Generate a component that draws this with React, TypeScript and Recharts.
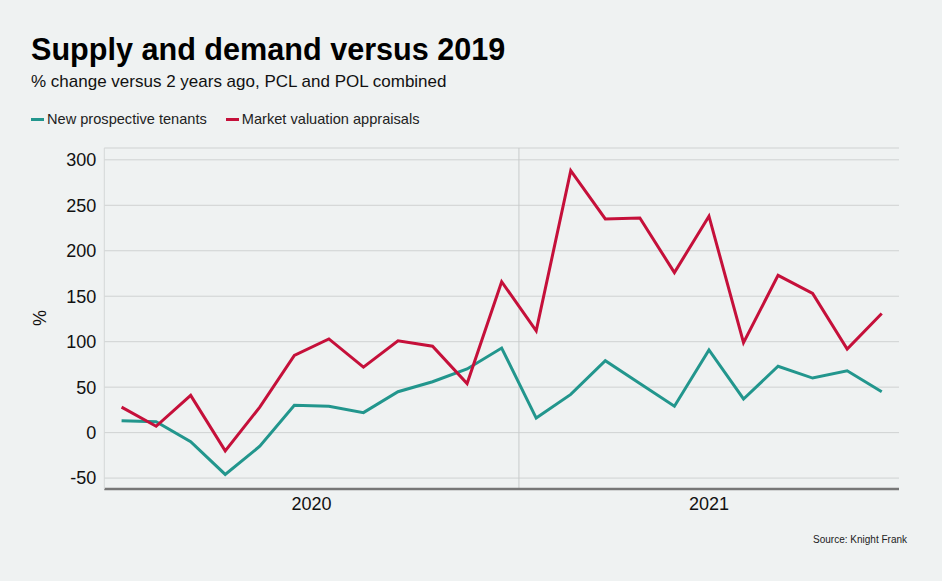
import { Legend, Line, LineChart, CartesianGrid, ReferenceLine, XAxis, YAxis } from 'recharts'

const months = [
  'Jan 2020', 'Feb 2020', 'Mar 2020', 'Apr 2020', 'May 2020', 'Jun 2020',
  'Jul 2020', 'Aug 2020', 'Sep 2020', 'Oct 2020', 'Nov 2020', 'Dec 2020',
  'Jan 2021', 'Feb 2021', 'Mar 2021', 'Apr 2021', 'May 2021', 'Jun 2021',
  'Jul 2021', 'Aug 2021', 'Sep 2021', 'Oct 2021', 'Nov 2021'
]

const tenants = [13, 12, -10, -46, -15, 30, 29, 22, 45, 56, 70, 93, 16, 42, 79, 54, 29, 91, 37, 73, 60, 68, 45]

const appraisals = [28, 7, 41, -20, 28, 85, 103, 72, 101, 95, 54, 166, 112, 288, 235, 236, 176, 238, 99, 173, 153, 92, 131]

const yTicks = [-50, 0, 50, 100, 150, 200, 250, 300]
const years = ['2020', '2021']
const seriesNames = ['New prospective tenants', 'Market valuation appraisals']

const TEAL = '#22968d'
const RED = '#c5103a'
const BG = '#eff2f2'
const FONT = '"Liberation Sans", Arial, sans-serif'

const data = months.map((m, i) => ({
  t: i,
  month: m,
  tenants: tenants[i],
  appraisals: appraisals[i]
}))

// centre of each year's run of months, and the boundary between the years
const yearIdx = (y: string) => months.map((m, i) => (m.endsWith(y) ? i : -1)).filter((i) => i >= 0)
const yearTicks = years.map((y) => {
  const idx = yearIdx(y)
  return (idx[0] + idx[idx.length - 1]) / 2
})
const yearBoundary = yearIdx(years[1])[0] - 0.5

function LegendContent({ payload }: any) {
  const items = [...(payload || [])].sort(
    (a: any, b: any) => seriesNames.indexOf(a.value) - seriesNames.indexOf(b.value)
  )
  return (
    <div style={{ display: 'flex', fontFamily: FONT, fontSize: 14.6, color: '#222', lineHeight: 1 }}>
      {items.map((p: any) => (
        <div key={p.value} style={{ display: 'flex', alignItems: 'center', marginRight: 19 }}>
          <span style={{ display: 'inline-block', width: 13, height: 3, background: p.color, marginRight: 3 }} />
          <span>{p.value}</span>
        </div>
      ))}
    </div>
  )
}

export default function App() {
  return (
    <div style={{ position: 'absolute', left: 0, top: 0, width: 942, height: 581, background: BG, fontFamily: FONT }}>
      <div style={{ position: 'absolute', left: 31, top: 34, fontSize: 30.6, fontWeight: 700, lineHeight: 1, color: '#000' }}>
        Supply and demand versus 2019
      </div>
      <div style={{ position: 'absolute', left: 31, top: 73, fontSize: 17, lineHeight: 1, color: '#111' }}>
        % change versus 2 years ago, PCL and POL combined
      </div>
      <div
        style={{
          position: 'absolute',
          left: 40,
          top: 318,
          fontSize: 18,
          lineHeight: 1,
          color: '#111',
          transform: 'translate(-50%, -50%) rotate(-90deg)'
        }}
      >
        %
      </div>
      <LineChart
        width={942}
        height={581}
        data={data}
        margin={{ top: 148, right: 43, bottom: 62, left: 24 }}
        style={{ position: 'absolute', left: 0, top: 0 }}
      >
        <CartesianGrid vertical={false} stroke="#cfd2d2" />
        <XAxis
          dataKey="t"
          type="number"
          domain={[-0.5, months.length - 0.5]}
          ticks={yearTicks}
          tickFormatter={(v: number) => years[yearTicks.indexOf(v)]}
          tickLine={false}
          axisLine={{ stroke: '#777', strokeWidth: 2.5 }}
          tick={{ fill: '#111', fontSize: 18, fontFamily: FONT }}
          height={30}
          interval={0}
        />
        <YAxis
          domain={[-62, 313]}
          ticks={yTicks}
          width={80.3}
          tickLine={false}
          axisLine={{ stroke: '#d4d7d7' }}
          tick={{ fill: '#111', fontSize: 18, fontFamily: FONT }}
          interval={0}
          allowDataOverflow
        />
        <ReferenceLine x={yearBoundary} stroke="#c8cbcb" />
        <Legend
          verticalAlign="middle"
          align="center"
          content={<LegendContent />}
          wrapperStyle={{ position: 'absolute', left: 31, top: 112, width: 'auto' }}
        />
        <Line
          dataKey="tenants"
          name={seriesNames[0]}
          stroke={TEAL}
          strokeWidth={3}
          dot={false}
          activeDot={false}
          isAnimationActive={false}
        />
        <Line
          dataKey="appraisals"
          name={seriesNames[1]}
          stroke={RED}
          strokeWidth={3}
          dot={false}
          activeDot={false}
          isAnimationActive={false}
        />
      </LineChart>
      <div style={{ position: 'absolute', right: 35, top: 535, fontSize: 10, lineHeight: 1, color: '#222' }}>
        Source: Knight Frank
      </div>
    </div>
  )
}
